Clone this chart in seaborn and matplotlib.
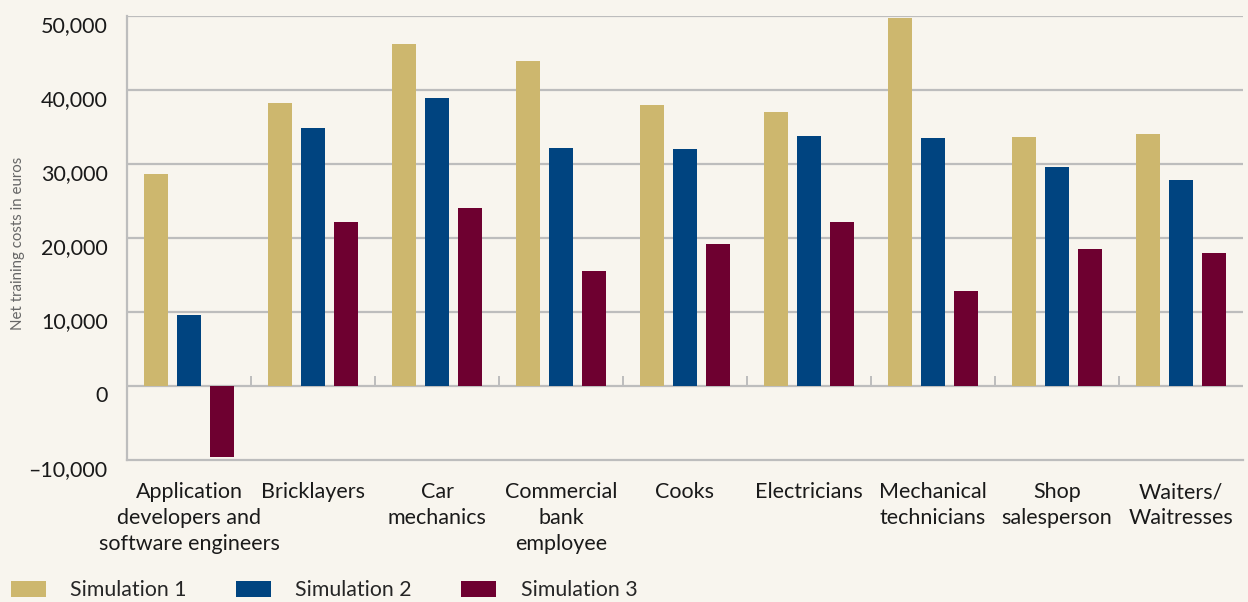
import numpy as np
import pandas as pd
import matplotlib
matplotlib.use("Agg")
import matplotlib.pyplot as plt
import matplotlib.transforms as mtransforms
from matplotlib.ticker import FuncFormatter, FixedLocator
import seaborn as sns

categories = [
    "Application\ndevelopers and\nsoftware engineers",
    "Bricklayers",
    "Car\nmechanics",
    "Commercial\nbank\nemployee",
    "Cooks",
    "Electricians",
    "Mechanical\ntechnicians",
    "Shop\nsalesperson",
    "Waiters/\nWaitresses",
]
sim1 = [28700, 38250, 46200, 43900, 38000, 37050, 49700, 33650, 34050]
sim2 = [9600, 34900, 38900, 32150, 32050, 33800, 33550, 29600, 27850]
sim3 = [-9600, 22200, 24050, 15550, 19200, 22200, 12900, 18550, 18000]
series_names = ["Simulation 1", "Simulation 2", "Simulation 3"]
colors = ["#CDB76E", "#004480", "#6E0030"]
y_ticks = [-10000, 0, 10000, 20000, 30000, 40000, 50000]

BG = "#F8F5EE"
GRID = "#BDBDBD"

rows = []
for name, vals in zip(series_names, [sim1, sim2, sim3]):
    for c, v in zip(categories, vals):
        rows.append({"category": c, "series": name, "value": v})
df = pd.DataFrame(rows)

sns.set_theme(style="white")
plt.rcParams["font.family"] = ["Lato", "DejaVu Sans"]

fig = plt.figure(figsize=(12.48, 6.02), dpi=100, facecolor=BG)
ax = fig.add_axes([127 / 1248, 1 - 460 / 602, (1243 - 127) / 1248, (460 - 16) / 602])
ax.set_facecolor(BG)

sns.barplot(data=df, x="category", y="value", hue="series", hue_order=series_names,
            palette=colors, order=categories, width=0.8, gap=0.27, saturation=1,
            linewidth=0, ax=ax, legend=True, zorder=3)

ax.set_xlim(-0.5, len(categories) - 0.5)
ax.set_ylim(y_ticks[0], y_ticks[-1])
ax.yaxis.set_major_locator(FixedLocator(y_ticks))
ax.yaxis.set_major_formatter(FuncFormatter(lambda v, p: f"{v:,.0f}".replace("-", "\u2013")))

# gridlines (0 and above)
for t in y_ticks[1:]:
    ax.axhline(t, color=GRID, lw=1.6, zorder=1)
# category separators on the zero line
ax.vlines(np.arange(len(categories) - 1) + 0.5, 0, 1350, color=GRID, lw=1.4, zorder=1)

for side in ["top", "right"]:
    ax.spines[side].set_visible(False)
for side in ["left", "bottom"]:
    ax.spines[side].set_color(GRID)
    ax.spines[side].set_linewidth(1.6)

ax.tick_params(axis="y", length=0, pad=14, labelsize=15.5, labelcolor="#1a1a1a")
ax.tick_params(axis="x", length=0, pad=16, labelsize=15.5, labelcolor="#1a1a1a")
for lab in ax.get_xticklabels():
    lab.set_linespacing(1.38)
    lab.set_ha("center")

offset = mtransforms.ScaledTranslation(0, -8 / 100, fig.dpi_scale_trans)
for lab in ax.get_yticklabels():
    lab.set_transform(lab.get_transform() + offset)

ax.set_xlabel("")
ax.set_ylabel("")
fig.text(18 / 1248, 1 - 243 / 602, "Net training costs in euros", rotation=90,
         ha="center", va="center", fontsize=10.8, color="#666666")

handles, labels = ax.get_legend_handles_labels()
ax.get_legend().remove()
fig.legend(handles, labels, loc="lower left", bbox_to_anchor=(0.0, -0.015), ncol=3,
           frameon=False, fontsize=15.3, handlelength=1.65, handleheight=0.8,
           handletextpad=1.16, columnspacing=2.3, borderaxespad=0.3, borderpad=0.2)

fig.savefig("out.png", dpi=100, facecolor=BG)
